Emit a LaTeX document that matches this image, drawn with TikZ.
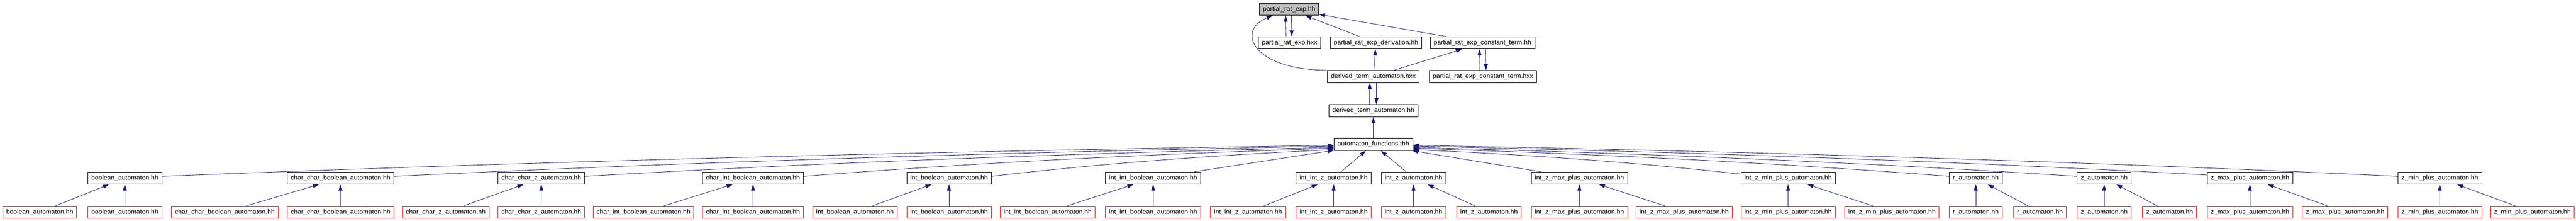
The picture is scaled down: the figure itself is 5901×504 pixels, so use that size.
\documentclass[tikz,border=0pt]{standalone}
\usepackage{fontspec}
\setmainfont{Liberation Sans}
\usetikzlibrary{arrows.meta}
\definecolor{edgeblue}{RGB}{25,25,112}
\definecolor{boxgrey}{RGB}{191,191,191}
\tikzset{
  file/.style={draw=black, fill=white, line width=1pt, minimum height=28pt, inner xsep=8pt, inner ysep=0pt, font=\fontsize{15}{18}\selectfont},
  missing/.style={file, draw=red},
  root/.style={file, fill=boxgrey},
  edge/.style={draw=edgeblue, line width=1pt, -{Triangle[length=14pt,width=9pt]}}
}
\begin{document}
\begin{tikzpicture}[x=1pt, y=-1pt]
\useasboundingbox (0,0) rectangle (5901,504);
\node[root] (inc0) at (2953,21){partial\_rat\_exp.hh};
\node[file] (inc1) at (2954,98){partial\_rat\_exp.hxx};
\node[file] (inc2) at (3152,98){partial\_rat\_exp\_derivation.hh};
\node[file] (inc3) at (3396,98){partial\_rat\_exp\_constant\_term.hh};
\node[file] (inc4) at (3146,175){derived\_term\_automaton.hxx};
\node[file] (inc5) at (3397,175){partial\_rat\_exp\_constant\_term.hxx};
\node[file] (inc6) at (3146,253){derived\_term\_automaton.hh};
\node[file] (inc7) at (3146,330){automaton\_functions.thh};
\draw[edge]([xshift=-8pt]inc1.north) -- ([xshift=-8pt]inc0.south);
\draw[edge]([xshift=5pt]inc0.south) -- ([xshift=5pt]inc1.north);
\draw[edge](inc2) -- (inc0);
\draw[edge](inc3) -- (inc0);
\draw[edge](inc4.north west) .. controls (2870,160) and (2830,70) .. (inc0.201);
\draw[edge](inc4) -- (inc2);
\draw[edge](inc4) -- (inc3);
\draw[edge]([xshift=-7pt]inc5.north) -- ([xshift=-7pt]inc3.south);
\draw[edge]([xshift=7pt]inc3.south) -- ([xshift=7pt]inc5.north);
\draw[edge]([xshift=-8pt]inc6.north) -- ([xshift=-8pt]inc4.south);
\draw[edge]([xshift=7pt]inc4.south) -- ([xshift=7pt]inc6.north);
\draw[edge](inc7) -- (inc6);
\node[file] (inc8) at (286,407){boolean\_automaton.hh};
\node[missing] (inc9) at (91,485){boolean\_automaton.hh};
\node[missing] (inc10) at (286,485){boolean\_automaton.hh};
\draw[edge](inc9) -- (inc8);
\draw[edge](inc10) -- (inc8);
\draw[edge]([yshift=4pt]inc8.east) .. controls (1266,367.5) and (2160,346) .. ([yshift=-2pt]inc7.west);
\node[file] (inc11) at (780,407){char\_char\_boolean\_automaton.hh};
\node[missing] (inc12) at (515,485){char\_char\_boolean\_automaton.hh};
\node[missing] (inc13) at (780,485){char\_char\_boolean\_automaton.hh};
\draw[edge](inc12) -- (inc11);
\draw[edge](inc13) -- (inc11);
\draw[edge]([yshift=4pt]inc11.east) .. controls (1618,368.5) and (2337,347.8) .. ([yshift=-4pt]inc7.west);
\node[file] (inc14) at (1240,407){char\_char\_z\_automaton.hh};
\node[missing] (inc15) at (1021,485){char\_char\_z\_automaton.hh};
\node[missing] (inc16) at (1240,485){char\_char\_z\_automaton.hh};
\draw[edge](inc15) -- (inc14);
\draw[edge](inc16) -- (inc14);
\draw[edge]([yshift=4pt]inc14.east) .. controls (1910,370) and (2483,350.2) .. ([yshift=-7pt]inc7.west);
\node[file] (inc17) at (1725,407){char\_int\_boolean\_automaton.hh};
\node[missing] (inc18) at (1474,485){char\_int\_boolean\_automaton.hh};
\node[missing] (inc19) at (1725,485){char\_int\_boolean\_automaton.hh};
\draw[edge](inc18) -- (inc17);
\draw[edge](inc19) -- (inc17);
\draw[edge]([yshift=4pt]inc17.east) .. controls (2245,371) and (2650,351.8) .. ([yshift=-9pt]inc7.west);
\node[file] (inc20) at (2174,407){int\_boolean\_automaton.hh};
\node[missing] (inc21) at (1958.5,485){int\_boolean\_automaton.hh};
\node[missing] (inc22) at (2174,485){int\_boolean\_automaton.hh};
\draw[edge](inc21) -- (inc20);
\draw[edge](inc22) -- (inc20);
\draw[edge]([yshift=4pt]inc20.east) .. controls (2532,372.5) and (2794,354.2) .. ([yshift=-12pt]inc7.west);
\node[file] (inc23) at (2641.5,407){int\_int\_boolean\_automaton.hh};
\node[missing] (inc24) at (2400,485){int\_int\_boolean\_automaton.hh};
\node[missing] (inc25) at (2641.5,485){int\_int\_boolean\_automaton.hh};
\draw[edge](inc24) -- (inc23);
\draw[edge](inc25) -- (inc23);
\draw[edge](inc23) -- (inc7);
\node[file] (inc26) at (3055,407){int\_int\_z\_automaton.hh};
\node[missing] (inc27) at (2859,485){int\_int\_z\_automaton.hh};
\node[missing] (inc28) at (3055,485){int\_int\_z\_automaton.hh};
\draw[edge](inc27) -- (inc26);
\draw[edge](inc28) -- (inc26);
\draw[edge](inc26) -- (inc7);
\node[file] (inc29) at (3238,407){int\_z\_automaton.hh};
\node[missing] (inc30) at (3238,485){int\_z\_automaton.hh};
\node[missing] (inc31) at (3411,485){int\_z\_automaton.hh};
\draw[edge](inc30) -- (inc29);
\draw[edge](inc31) -- (inc29);
\draw[edge](inc29) -- (inc7);
\node[file] (inc32) at (3618,407){int\_z\_max\_plus\_automaton.hh};
\node[missing] (inc33) at (3618,485){int\_z\_max\_plus\_automaton.hh};
\node[missing] (inc34) at (3858,485){int\_z\_max\_plus\_automaton.hh};
\draw[edge](inc33) -- (inc32);
\draw[edge](inc34) -- (inc32);
\draw[edge](inc32) -- (inc7);
\node[file] (inc35) at (4096,407){int\_z\_min\_plus\_automaton.hh};
\node[missing] (inc36) at (4096,485){int\_z\_min\_plus\_automaton.hh};
\node[missing] (inc37) at (4334,485){int\_z\_min\_plus\_automaton.hh};
\draw[edge](inc36) -- (inc35);
\draw[edge](inc37) -- (inc35);
\draw[edge]([yshift=9pt]inc35.west) .. controls (3739,370) and (3488,353) .. ([yshift=-12pt]inc7.east);
\node[file] (inc38) at (4526,407){r\_automaton.hh};
\node[missing] (inc39) at (4526,485){r\_automaton.hh};
\node[missing] (inc40) at (4673,485){r\_automaton.hh};
\draw[edge](inc39) -- (inc38);
\draw[edge](inc40) -- (inc38);
\draw[edge]([yshift=4pt]inc38.west) .. controls (4055,371) and (3646,351.8) .. ([yshift=-9pt]inc7.east);
\node[file] (inc41) at (4820,407){z\_automaton.hh};
\node[missing] (inc42) at (4820,485){z\_automaton.hh};
\node[missing] (inc43) at (4970,485){z\_automaton.hh};
\draw[edge](inc42) -- (inc41);
\draw[edge](inc43) -- (inc41);
\draw[edge]([yshift=4pt]inc41.west) .. controls (4250,370) and (3744,350.2) .. ([yshift=-7pt]inc7.east);
\node[file] (inc44) at (5154,407){z\_max\_plus\_automaton.hh};
\node[missing] (inc45) at (5154,485){z\_max\_plus\_automaton.hh};
\node[missing] (inc46) at (5372,485){z\_max\_plus\_automaton.hh};
\draw[edge](inc45) -- (inc44);
\draw[edge](inc46) -- (inc44);
\draw[edge]([yshift=7pt]inc44.west) .. controls (4450,367) and (3843.5,347.2) .. ([yshift=-4pt]inc7.east);
\node[file] (inc47) at (5589,407){z\_min\_plus\_automaton.hh};
\node[missing] (inc48) at (5589,485){z\_min\_plus\_automaton.hh};
\node[missing] (inc49) at (5801,485){z\_min\_plus\_automaton.hh};
\draw[edge](inc48) -- (inc47);
\draw[edge](inc49) -- (inc47);
\draw[edge]([yshift=4pt]inc47.west) .. controls (4741.6,367.5) and (3989,346.2) .. ([yshift=-2pt]inc7.east);
\end{tikzpicture}
\end{document}
